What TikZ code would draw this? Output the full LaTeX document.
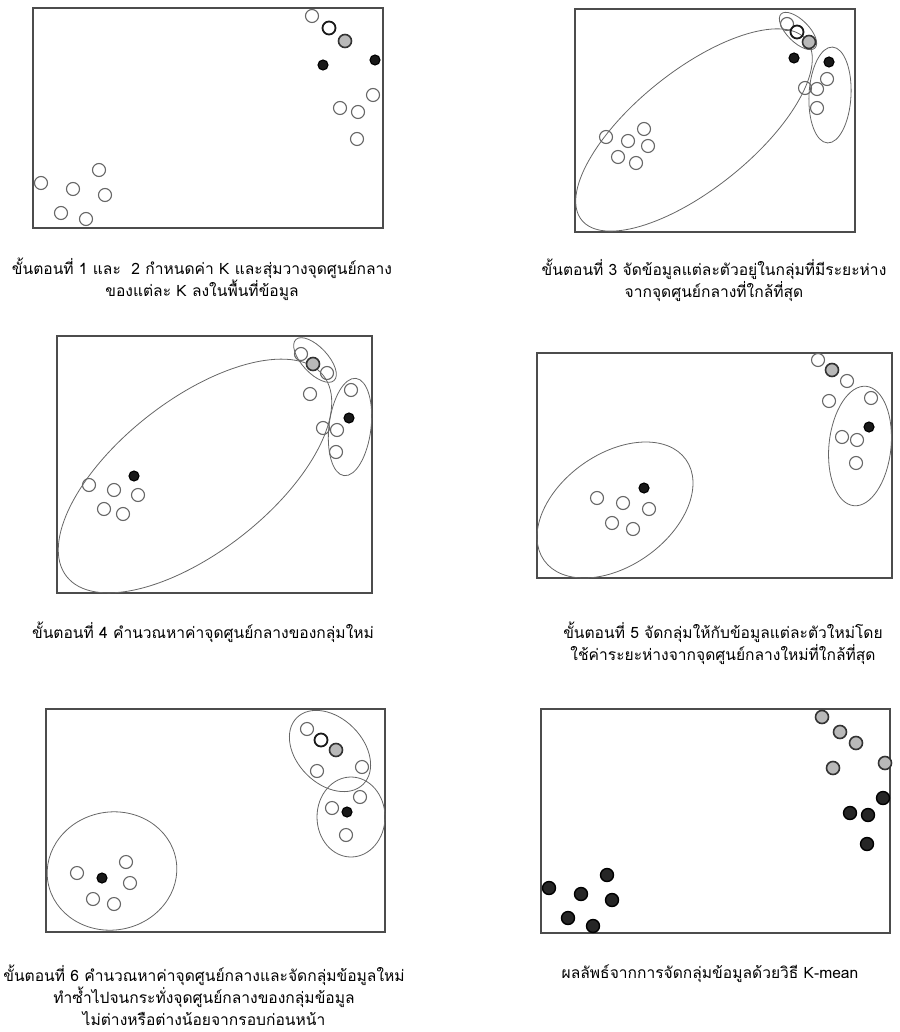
\documentclass[tikz,border=0pt]{standalone}
\usepackage{fontspec}
\setmainfont[Script=Thai]{Loma}
\usepackage{tikz}

\begin{document}
\begin{tikzpicture}[x=1pt, y=-1pt,
    fr/.style={draw=black!70, line width=1.2pt},
    grp/.style={draw=black!60, line width=0.8pt},
    obs/.style={draw=black!60, circle, line width=1.1pt, inner sep=0pt, minimum size=13pt},
    obsk/.style={obs, draw=black!90, line width=1.8pt},
    cng/.style={obs, fill=gray!55, draw=black!80, line width=1.6pt},
    cnk/.style={obs, fill=black!90, draw=black, minimum size=10pt},
    mem/.style={obs, fill=black!85, draw=black, line width=1.4pt, minimum size=13pt},
    capt/.style={align=center, font=\fontsize{15.6}{22}\selectfont}]
  \useasboundingbox (0,0) rectangle (899,1032);

  % step 1 and 2
  \draw[fr] (33,8) rectangle (383,228);
  \foreach \s/\x/\y [count=\i] in {obs/312/16, obsk/329/28, cng/345/41, cnk/323/65, cnk/375/60,
      obs/373/95, obs/340/108, obs/358/112, obs/357/139, obs/99/170, obs/41/183,
      obs/73/189, obs/105/195, obs/61/213, obs/86/219}
    \node[\s] (a\i) at (\x,\y) {};
  \node[capt] (ta) at (202,279) {ขั้นตอนที่ 1 และ~~2 กำหนดค่า K และสุ่มวางจุดศูนย์กลาง\\ของแต่ละ K ลงในพื้นที่ข้อมูล};

  % step 3
  \draw[fr] (575,9) rectangle (855,232);
  \draw[grp, rotate around={38.7:(694,130)}] (694,130) ellipse [x radius=144pt, y radius=59pt];
  \draw[grp, rotate around={-45:(798,31)}] (798,31) ellipse [x radius=24pt, y radius=11pt];
  \draw[grp, rotate around={-3:(830,95)}] (830,95) ellipse [x radius=21pt, y radius=48pt];
  \foreach \s/\x/\y [count=\i] in {obs/787/24, obsk/797/32, cng/809/42, cnk/794/58, cnk/829/62,
      obs/827/79, obs/805/88, obs/817/89, obs/817/108, obs/644/129, obs/606/137,
      obs/628/141, obs/648/146, obs/618/157, obs/636/163}
    \node[\s] (b\i) at (\x,\y) {};
  \node[capt] (tb) at (714,280) {ขั้นตอนที่ 3 จัดข้อมูลแต่ละตัวอยู่ในกลุ่มที่มีระยะห่าง\\จากจุดศูนย์กลางที่ใกล้ที่สุด};

  % step 4
  \draw[fr] (57,336) rectangle (372,593);
  \draw[grp, rotate around={38:(195,476)}] (195,476) ellipse [x radius=163pt, y radius=76pt];
  \draw[grp, rotate around={-47:(315,360)}] (315,360) ellipse [x radius=28pt, y radius=13pt];
  \draw[grp, rotate around={-7:(350,427)}] (350,427) ellipse [x radius=21pt, y radius=49pt];
  \foreach \s/\x/\y [count=\i] in {obs/301/354, cng/313/364, obs/327/373, obs/310/394, obs/351/390,
      cnk/349/418, obs/323/428, obs/337/430, obs/336/452, cnk/134/476, obs/89/485,
      obs/114/490, obs/138/495, obs/104/509, obs/123/514}
    \node[\s] (c\i) at (\x,\y) {};
  \node[capt] (tc) at (203,632) {ขั้นตอนที่ 4 คำนวณหาค่าจุดศูนย์กลางของกลุ่มใหม่};

  % step 5
  \draw[fr] (537,353) rectangle (892,578);
  \draw[grp, rotate around={35.4:(615,510)}] (615,510) ellipse [x radius=87pt, y radius=56pt];
  \draw[grp, rotate around={-6:(860,446)}] (860,446) ellipse [x radius=31pt, y radius=60pt];
  \foreach \s/\x/\y [count=\i] in {obs/818/360, cng/832/370, obs/847/381, obs/829/401, obs/871/398,
      cnk/869/427, obs/842/437, obs/857/440, obs/856/463, cnk/644/488, obs/597/498,
      obs/623/503, obs/649/509, obs/612/523, obs/633/529}
    \node[\s] (d\i) at (\x,\y) {};
  \node[capt] (td) at (723,643) {ขั้นตอนที่ 5 จัดกลุ่มให้กับข้อมูลแต่ละตัวใหม่โดย\\ใช้ค่าระยะห่างจากจุดศูนย์กลางใหม่ที่ใกล้ที่สุด};

  % step 6
  \draw[fr] (46,709) rectangle (385,932);
  \draw[grp, rotate around={10:(112,871)}] (112,871) ellipse [x radius=65pt, y radius=59pt];
  \draw[grp, rotate around={-45:(330,751)}] (330,751) ellipse [x radius=47pt, y radius=33pt];
  \draw[grp] (351,817) ellipse [x radius=34pt, y radius=40pt];
  \foreach \s/\x/\y [count=\i] in {obs/307/729, obsk/321/740, cng/336/750, obs/317/771, obs/362/767,
      obs/360/797, obs/332/808, cnk/347/812, obs/346/835, obs/126/862, obs/77/873,
      cnk/102/878, obs/130/883, obs/93/899, obs/114/904}
    \node[\s] (e\i) at (\x,\y) {};
  \node[capt] (te) at (204,995) {ขั้นตอนที่ 6 คำนวณหาค่าจุดศูนย์กลางและจัดกลุ่มข้อมูลใหม่\\ทำซ้ำไปจนกระทั่งจุดศูนย์กลางของกลุ่มข้อมูล\\ไม่ต่างหรือต่างน้อยจากรอบก่อนหน้า};

  % result
  \draw[fr] (541,709) rectangle (890,933);
  \foreach \s/\x/\y [count=\i] in {cng/822/717, cng/840/732, cng/856/743, cng/833/768, cng/885/763,
      mem/883/798, mem/850/813, mem/868/815, mem/867/844, mem/607/875, mem/549/888,
      mem/581/894, mem/612/900, mem/568/918, mem/593/926}
    \node[\s] (f\i) at (\x,\y) {};
  \node[capt] (tf) at (710,974) {ผลลัพธ์จากการจัดกลุ่มข้อมูลด้วยวิธี K-mean};
\end{tikzpicture}
\end{document}
